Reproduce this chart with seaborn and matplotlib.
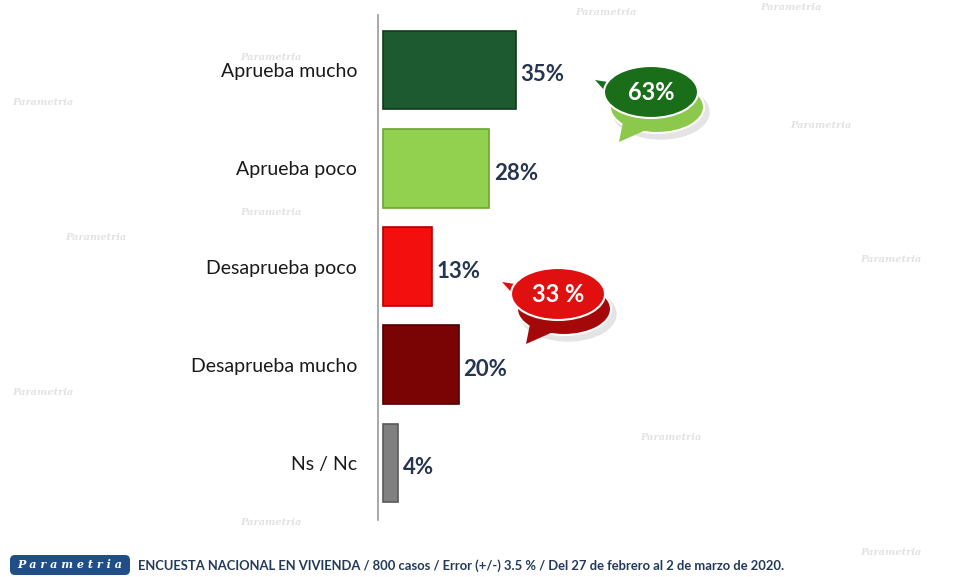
import matplotlib
matplotlib.use("Agg")
import matplotlib.pyplot as plt
from matplotlib.patches import Ellipse, Polygon, FancyBboxPatch
import seaborn as sns
import pandas as pd

# data
categories = ["Aprueba mucho", "Aprueba poco", "Desaprueba poco", "Desaprueba mucho", "Ns / Nc"]
values = [35, 28, 13, 20, 4]
colors = ["#1d5a30", "#92d050", "#f40f0f", "#7a0404", "#808080"]
edges = ["#0f3a1c", "#6aa532", "#b00000", "#4a0000", "#5a5a5a"]
bubble_labels = ["63%", "33 %"]
footer = "ENCUESTA NACIONAL EN VIVIENDA / 800 casos / Error (+/-) 3.5 % / Del 27 de febrero al 2 de marzo de 2020."

df = pd.DataFrame({"cat": categories, "val": values})

sns.set_style("white")
plt.rcParams["font.family"] = ["Lato", "DejaVu Sans"]

fig = plt.figure(figsize=(9.63, 5.77), dpi=100)

# background overlay in pixel coords (watermark, footer)
bg = fig.add_axes([0, 0, 1, 1], zorder=0)
bg.set_xlim(0, 963)
bg.set_ylim(577, 0)
bg.axis("off")
for (x, y) in [(12, 105), (65, 240), (240, 60), (575, 15), (790, 128), (860, 262),
               (12, 395), (640, 440), (240, 525), (860, 555), (240, 215), (760, 10)]:
    bg.text(x, y, "Parametria", fontsize=7, style="italic", color="#e2e2e2",
            family="DejaVu Serif", fontweight="bold")

# main bar axes
ax = fig.add_axes([378 / 963, 1 - 520 / 577, 522 / 963, 505 / 577], zorder=2)
ax.patch.set_alpha(0)
sns.barplot(data=df, x="val", y="cat", hue="cat", palette=colors, orient="h",
            width=0.8, legend=False, ax=ax, linewidth=0, saturation=1)
for bar, ec in zip(ax.patches, edges):
    bar.set_edgecolor(ec)
    bar.set_linewidth(1.2)
ax.set_xlim(-1.3, 136)
ax.set_ylim(4.58, -0.56)
ax.set_xlabel("")
ax.set_ylabel("")
ax.set_xticks([])
ax.set_yticks(range(len(categories)))
ax.set_yticklabels(categories, fontsize=14, color="#1a1a1a")
ax.tick_params(axis="y", which="major", length=0, pad=15)
ax.set_yticks([i - 0.5 for i in range(len(categories) + 1)], minor=True)
ax.tick_params(axis="y", which="minor", length=5, color="#9a9a9a", direction="out")
for s in ["top", "right", "bottom"]:
    ax.spines[s].set_visible(False)
ax.spines["left"].set_color("#9a9a9a")
ax.spines["left"].set_linewidth(1.2)

for i, v in enumerate(values):
    ax.text(v + 1.2, i + 0.05, f"{v}%", va="center", ha="left", fontsize=16,
            fontweight="bold", color="#263550")

# speech bubbles
def bubble(cx, cy, face, shade, label):
    b = fig.add_axes([0, 0, 1, 1], zorder=3)
    b.set_xlim(0, 963)
    b.set_ylim(577, 0)
    b.axis("off")
    b.add_patch(Ellipse((cx + 10, cy + 20), 96, 54, color="#e4e4e4", zorder=1))
    b.add_patch(Ellipse((cx + 6, cy + 15), 94, 52, facecolor=shade, edgecolor="white", lw=1.5, zorder=2))
    b.add_patch(Polygon([(cx - 28, cy + 30), (cx - 32, cy + 50), (cx - 5, cy + 38)],
                        facecolor=shade, edgecolor="none", zorder=2))
    b.add_patch(Polygon([(cx - 30, cy - 8), (cx - 56, cy - 12), (cx - 36, cy + 10)],
                        facecolor=face, edgecolor="none", zorder=3))
    b.add_patch(Ellipse((cx, cy), 94, 52, facecolor=face, edgecolor="white", lw=1.5, zorder=4))
    b.text(cx, cy, label, ha="center", va="center", fontsize=17, fontweight="bold",
           color="white", zorder=5)

bubble(651, 92, "#1a6e1a", "#8cc84b", bubble_labels[0])
bubble(558, 294, "#e01010", "#a50808", bubble_labels[1])

# footer
bg.add_patch(FancyBboxPatch((10, 555), 120, 20, boxstyle="round,pad=0,rounding_size=5",
                            facecolor="#1f4f86", edgecolor="none"))
bg.text(70, 565, "P a r a m e t r i a", ha="center", va="center", fontsize=8,
        style="italic", fontweight="bold", color="white", family="DejaVu Serif")
bg.text(138, 566, footer, ha="left", va="center", fontsize=9.4, color="#243a5a", fontweight="bold")

fig.savefig("out.png", dpi=100)
